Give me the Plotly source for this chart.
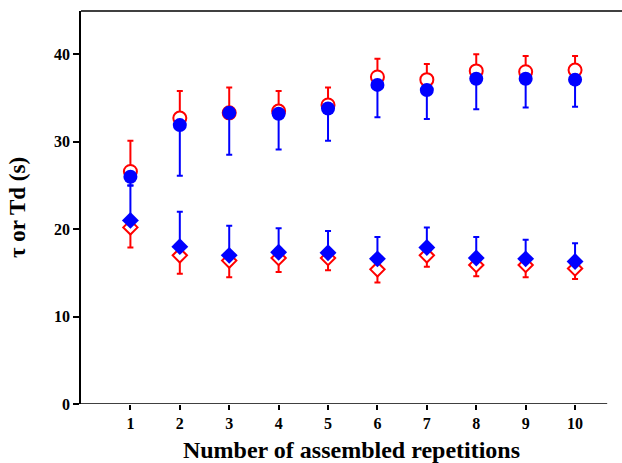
import plotly.graph_objects as go

reps = [1, 2, 3, 4, 5, 6, 7, 8, 9, 10]

# tau (circles)
tau_red = [26.6, 32.7, 33.3, 33.5, 34.2, 37.4, 37.1, 38.1, 38.0, 38.2]
tau_red_top = [30.1, 35.8, 36.2, 35.8, 36.2, 39.5, 38.9, 40.0, 39.8, 39.8]
tau_blue = [26.0, 31.9, 33.3, 33.2, 33.8, 36.5, 35.9, 37.2, 37.2, 37.1]
tau_blue_bottom = [25.0, 26.1, 28.5, 29.1, 30.1, 32.8, 32.6, 33.7, 33.9, 34.0]

# Td (diamonds)
td_red = [20.2, 17.0, 16.4, 16.7, 16.7, 15.4, 17.0, 15.9, 15.9, 15.5]
td_red_bottom = [17.9, 14.9, 14.5, 15.1, 15.3, 13.9, 15.7, 14.6, 14.5, 14.3]
td_blue = [21.0, 18.0, 17.0, 17.35, 17.3, 16.6, 17.9, 16.7, 16.6, 16.3]
td_blue_top = [25.0, 22.0, 20.4, 20.1, 19.8, 19.1, 20.2, 19.1, 18.8, 18.4]

y_ticks = [0, 10, 20, 30, 40]

RED = "#ff0000"
BLUE = "#0000ff"
FONT = "Times New Roman, Liberation Serif, serif"

def diff(a, b):
    return [abs(x - y) for x, y in zip(a, b)]

zeros = [0] * len(reps)

fig = go.Figure()

fig.add_trace(go.Scatter(
    x=reps, y=tau_red, mode="markers",
    marker=dict(symbol="circle", size=13, color="white", line=dict(color=RED, width=2)),
    error_y=dict(type="data", symmetric=False, array=diff(tau_red_top, tau_red),
                 arrayminus=zeros, color=RED, thickness=2, width=3),
    showlegend=False))

fig.add_trace(go.Scatter(
    x=reps, y=td_red, mode="markers",
    marker=dict(symbol="diamond", size=11, color="white", line=dict(color=RED, width=2)),
    error_y=dict(type="data", symmetric=False, array=zeros,
                 arrayminus=diff(td_red, td_red_bottom), color=RED, thickness=2, width=3),
    showlegend=False))

fig.add_trace(go.Scatter(
    x=reps, y=tau_blue, mode="markers",
    marker=dict(symbol="circle", size=14, color=BLUE, line=dict(width=0)),
    error_y=dict(type="data", symmetric=False, array=zeros,
                 arrayminus=diff(tau_blue, tau_blue_bottom), color=BLUE, thickness=2, width=3),
    showlegend=False))

fig.add_trace(go.Scatter(
    x=reps, y=td_blue, mode="markers",
    marker=dict(symbol="diamond", size=13, color=BLUE, line=dict(width=0)),
    error_y=dict(type="data", symmetric=False, array=diff(td_blue_top, td_blue),
                 arrayminus=zeros, color=BLUE, thickness=2, width=3),
    showlegend=False))

# frame lines: top border across, bottom axis line
fig.add_shape(type="line", xref="paper", yref="paper", x0=0, x1=1, y0=1, y1=1,
              line=dict(color="black", width=1.5))
fig.add_shape(type="line", xref="x", yref="y", x0=0, x1=10.65, y0=0, y1=0,
              line=dict(color="black", width=1.5))

fig.update_layout(
    width=622, height=463,
    margin=dict(l=81, r=0, t=11, b=59),
    plot_bgcolor="white", paper_bgcolor="white",
    font=dict(family=FONT, color="black"),
)

fig.update_xaxes(
    range=[0, 10.95], tickvals=reps, ticktext=[str(r) for r in reps],
    showline=False, showgrid=False, zeroline=False,
    ticks="outside", ticklen=5, tickwidth=1.5, tickcolor="black",
    tickfont=dict(family=FONT, size=16, weight="bold"),
    title=dict(text="Number of assembled repetitions",
               font=dict(family=FONT, size=24, weight="bold"), standoff=10),
)
fig.update_yaxes(
    range=[0, 44.95], tickvals=y_ticks,
    showline=True, linecolor="black", linewidth=1.5,
    showgrid=False, zeroline=False,
    ticks="outside", ticklen=6, tickwidth=1.5, tickcolor="black",
    tickfont=dict(family=FONT, size=16, weight="bold"),
    title=dict(text="τ or Td (s)", font=dict(family=FONT, size=23, weight="bold"), standoff=22),
)

fig.write_html("out.html")
